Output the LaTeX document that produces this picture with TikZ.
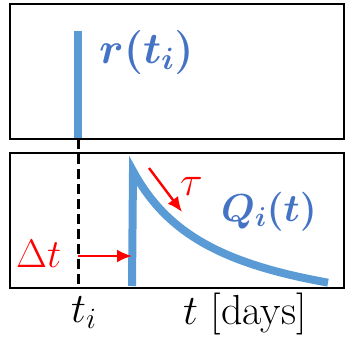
\documentclass[tikz,border=0pt]{standalone}
\usepackage{fix-cm}
\usepackage{amsmath}
\usepackage{bm}
\usetikzlibrary{arrows.meta}
\definecolor{qline}{RGB}{ 91,155,213}
\definecolor{qtext}{RGB}{ 68,114,196}
\definecolor{rcol} {RGB}{255,  0,  0}
\tikzset{
  BX/.style={draw=black, line width=2.4pt},
  QL/.style={qline, line width=8pt, line join=miter},
  RL/.style={qline, line width=8.5pt},
  DL/.style={black, line width=3pt, dash pattern=on 10pt off 5pt},
  RA/.style={rcol, line width=2.4pt, -{Latex[length=15pt, width=13pt]}},
  BIG/.style={inner sep=0pt, font=\fontsize{42}{44}\selectfont},
}
\begin{document}
\begin{tikzpicture}[x=1pt, y=-1pt]
\useasboundingbox (0,0) rectangle (347,338);

\pgfmathsetmacro{\XL}{10}
\pgfmathsetmacro{\XR}{344}
\pgfmathsetmacro{\XT}{78}

%% ================================================================
%%  TOP PANEL – IMPULSE
%% ================================================================
\draw[RL] (\XT,31) -- (\XT,139);
\draw[BX] (\XL,4) rectangle (\XR,139);
\node[BIG, qtext, anchor=base west, font=\fontsize{44}{46}\selectfont]
  (rlab) at (99,63) {$\bm{r(t_i)}$};

%% ================================================================
%%  BOTTOM PANEL – RESPONSE
%% ================================================================
% dashed marker at t_i
\draw[DL] (\XT,139) -- (\XT,288);

% response curve
\draw[QL] (132,286) -- (133,171)
  -- plot[domain=2:195, samples=80] ({133+\x},{171+162/(1+88/\x)});
\draw[BX] (\XL,153) rectangle (\XR,288);

% delay arrow
\coordinate (dtS) at (\XT,256);
\coordinate (dtE) at (132,256);
\draw[RA] (dtS) -- (dtE);
\node[BIG, rcol, anchor=base west, font=\fontsize{40}{42}\selectfont]
  (dtlab) at (16,267) {$\Delta t$};

% decay arrow
\coordinate (tauS) at (149,168);
\coordinate (tauE) at (182,212);
\draw[RA] (tauS) -- (tauE);
\node[BIG, rcol, anchor=base west] (taulab) at (180,195) {$\tau$};

\node[BIG, qtext, anchor=base west, font=\fontsize{39}{41}\selectfont]
  (qlab) at (221,221) {$\bm{Q_i(t)}$};

%% axis labels
\node[BIG, anchor=base west] (tilab) at (71,322) {$t_i$};
\node[BIG, anchor=base west] (tdlab) at (183,324) {$t$ [days]};

\end{tikzpicture}
\end{document}
